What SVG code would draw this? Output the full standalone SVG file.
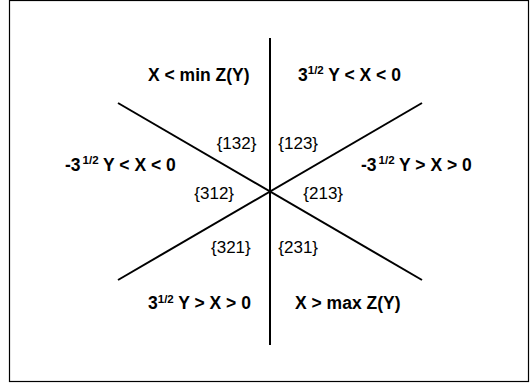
<svg xmlns="http://www.w3.org/2000/svg" width="530" height="383" viewBox="0 0 530 383">
<style>
.frame{fill:#fff;stroke:#000;stroke-width:1.2}
.ln{stroke:#000;stroke-width:2;fill:none}
.b{font-family:"Liberation Sans",Arial,sans-serif;font-weight:bold;font-size:17.5px;fill:#000}
.r{font-family:"Liberation Sans",Arial,sans-serif;font-size:17px;fill:#000}
.sup{font-size:11.5px}
</style>
<rect class="frame" x="9.5" y="0.5" width="519" height="381"/>
<g id="connectors">
<line class="ln" x1="270" y1="38" x2="270" y2="345"/>
<line class="ln" x1="118" y1="103" x2="422" y2="280"/>
<line class="ln" x1="118" y1="280" x2="422" y2="103"/>
</g>
<g id="region-top-left"><text class="b" x="148" y="80.5">X &lt; min Z(Y)</text></g>
<g id="region-top-right"><text class="b" x="298" y="80.5">3<tspan class="sup" dy="-6.5">1/2</tspan><tspan dy="6.5"> Y &lt; X &lt; 0</tspan></text></g>
<g id="region-left"><text class="b" x="65" y="170.7">-3<tspan class="sup" dx="2" dy="-6.5">1/2</tspan><tspan dy="6.5"> Y &lt; X &lt; 0</tspan></text></g>
<g id="region-right"><text class="b" x="361" y="170.7">-3<tspan class="sup" dx="2" dy="-6.5">1/2</tspan><tspan dy="6.5"> Y &gt; X &gt; 0</tspan></text></g>
<g id="region-bottom-left"><text class="b" x="148" y="309">3<tspan class="sup" dy="-6.5">1/2</tspan><tspan dy="6.5"> Y &gt; X &gt; 0</tspan></text></g>
<g id="region-bottom-right"><text class="b" x="295" y="309">X &gt; max Z(Y)</text></g>
<g id="perm-132"><text class="r" x="216.7" y="149">{132}</text></g>
<g id="perm-123"><text class="r" x="278.3" y="149">{123}</text></g>
<g id="perm-312"><text class="r" x="194.3" y="199.3">{312}</text></g>
<g id="perm-213"><text class="r" x="303.3" y="199.3">{213}</text></g>
<g id="perm-321"><text class="r" x="211" y="253.3">{321}</text></g>
<g id="perm-231"><text class="r" x="278.3" y="253.3">{231}</text></g>
</svg>
